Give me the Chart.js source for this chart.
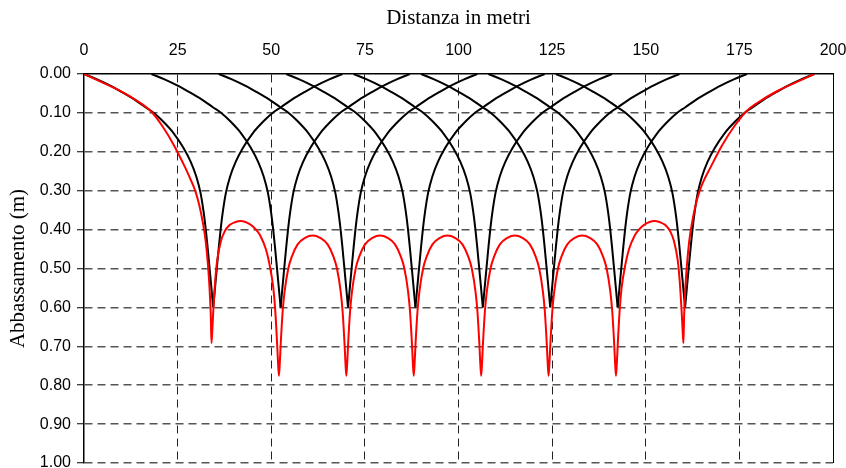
<!DOCTYPE html>
<html>
<head>
<meta charset="utf-8">
<title>Abbassamento</title>
<script src="https://cdn.jsdelivr.net/npm/chart.js@4.4.1/dist/chart.umd.min.js"></script>
<style>
  html, body { margin: 0; padding: 0; background: #fff; }
  #chart { display: block; }
</style>
</head>
<body>
<canvas id="chart" width="846" height="468"></canvas>
<script>
// Axis ticks
const xTicks = [0, 25, 50, 75, 100, 125, 150, 175, 200];
const yTicks = [0, 0.1, 0.2, 0.3, 0.4, 0.5, 0.6, 0.7, 0.8, 0.9, 1.0];

// Well positions (m)
const wellX = [34.5, 52.5, 70.5, 88.5, 106.5, 124.5, 142.5, 160.5];

// Single-well cone (black curves): distance from well / drawdown
const coneDist  = [0, 0.5, 1.0, 1.5, 2.0, 2.6, 3.4, 4.5, 6.0, 8.0, 10.5, 13.5, 16.0, 18.0, 21.0, 24.5, 27.5, 31.0, 34.5];
const coneDepth = [0.60, 0.548, 0.496, 0.445, 0.398, 0.352, 0.305, 0.264, 0.226, 0.189, 0.153, 0.121, 0.099, 0.086, 0.066, 0.046, 0.030, 0.014, 0];

// Red curve (total drawdown) - left end up to the second well
const redLeftX = [0, 5, 10, 15, 18, 21, 24, 27, 28.5, 29.8, 30.8, 31.7, 32.5, 33.1, 33.55, 33.85, 34.05,
  34.3, 34.55, 35.05, 35.55, 36.55, 37.55, 38.8, 40.3, 41.85, 44.55, 46.0, 47.05, 48.55, 49.55, 50.55, 51.05, 51.55, 51.8, 52.05];
const redLeftY = [0, 0.022, 0.045, 0.074, 0.097, 0.135, 0.183, 0.24, 0.272, 0.303, 0.338, 0.38, 0.43, 0.49, 0.555, 0.62, 0.692,
  0.65, 0.605, 0.53, 0.48, 0.43, 0.405, 0.389, 0.381, 0.378, 0.388, 0.401, 0.415, 0.45, 0.49, 0.55, 0.605, 0.69, 0.74, 0.776];

// Red curve - inner bumps between troughs (same shape each time)
const bumpStartX = [52.05, 70.05, 88.05, 106.05, 124.05];
const bumpOffset = [0.25, 0.5, 1, 1.5, 2.5, 3.5, 5, 7, 9, 11, 13, 14.5, 15.5, 16.5, 17, 17.5, 17.75, 18];
const bumpDepth  = [0.74, 0.69, 0.61, 0.56, 0.50, 0.468, 0.438, 0.421, 0.415, 0.421, 0.438, 0.468, 0.50, 0.56, 0.61, 0.69, 0.74, 0.776];

// Red curve - right end from the seventh well
const redRightX = [142.3, 142.55, 143.05, 143.55, 144.55, 145.55, 147.05, 148.1, 149.55, 152.25, 153.8, 155.3, 156.55, 157.55, 158.55, 159.05, 159.55, 159.8, 160.05,
  160.25, 160.55, 161.0, 161.6, 162.4, 163.3, 164.3, 165.6, 167.3, 170.4, 173.6, 176.75, 179.85, 184.9, 189.95, 195];
const redRightY = [0.74, 0.69, 0.605, 0.55, 0.49, 0.45, 0.415, 0.401, 0.388, 0.378, 0.381, 0.389, 0.405, 0.43, 0.48, 0.53, 0.605, 0.65, 0.692,
  0.62, 0.555, 0.49, 0.43, 0.38, 0.338, 0.303, 0.272, 0.24, 0.183, 0.135, 0.097, 0.074, 0.045, 0.022, 0];

// Build point lists (each cone split in two branches so the tip stays sharp)
function coneBranch(w, side) {
  return coneDist.map((d, i) => ({ x: w + side * d, y: coneDepth[i] }))
    .sort((a, b) => a.x - b.x);
}

const redPoints = redLeftX.map((x, i) => ({ x: x, y: redLeftY[i] }));
bumpStartX.forEach(x0 => {
  bumpOffset.forEach((t, i) => redPoints.push({ x: x0 + t, y: bumpDepth[i] }));
});
redRightX.forEach((x, i) => redPoints.push({ x: x, y: redRightY[i] }));

const lineStyle = {
  borderWidth: 2,
  showLine: true,
  pointRadius: 0,
  cubicInterpolationMode: 'monotone'
};

const datasets = [Object.assign({ data: redPoints, borderColor: '#ff0000', order: 0 }, lineStyle)];
wellX.forEach(w => {
  [-1, 1].forEach(side => {
    datasets.push(Object.assign({ data: coneBranch(w, side), borderColor: '#000000', order: 1 }, lineStyle));
  });
});

// Thin solid frame on the right side
const frameRight = {
  id: 'frameRight',
  afterDraw(chart) {
    const { ctx, chartArea } = chart;
    const x = Math.round(chartArea.right) + 0.5;
    ctx.save();
    ctx.strokeStyle = '#000';
    ctx.lineWidth = 1;
    ctx.beginPath();
    ctx.moveTo(x, chartArea.top);
    ctx.lineTo(x, chartArea.bottom);
    ctx.stroke();
    ctx.restore();
  }
};

const tickFont = { family: '"Liberation Sans", Arial, sans-serif', size: 16 };
const titleFont = { family: '"Liberation Serif", "Times New Roman", serif', size: 21 };

new Chart(document.getElementById('chart'), {
  type: 'scatter',
  data: { datasets: datasets },
  plugins: [frameRight],
  options: {
    responsive: false,
    animation: false,
    layout: { padding: { left: 0, top: 0, right: 13, bottom: 5 } },
    plugins: {
      legend: { display: false },
      tooltip: { enabled: false }
    },
    scales: {
      x: {
        type: 'linear',
        position: 'top',
        min: 0,
        max: 200,
        afterBuildTicks: scale => { scale.ticks = xTicks.map(v => ({ value: v })); },
        afterFit: scale => { scale.height = 74; scale.paddingLeft = 0; scale.paddingRight = 0; },
        ticks: { font: tickFont, color: '#000', padding: 14, maxRotation: 0 },
        grid: {
          color: ctx => (ctx.tick && (ctx.tick.value === 0 || ctx.tick.value === 200)) ? 'rgba(0,0,0,0)' : '#222',
          lineWidth: 1,
          drawTicks: false
        },
        border: { display: true, color: '#000', width: 1.5, dash: [8, 5] },
        title: { display: true, text: 'Distanza in metri', font: titleFont, color: '#000', padding: { top: 5.4, bottom: 0 } }
      },
      y: {
        type: 'linear',
        reverse: true,
        min: 0,
        max: 1,
        afterBuildTicks: scale => { scale.ticks = yTicks.map(v => ({ value: v })); },
        afterFit: scale => { scale.width = 84; scale.paddingTop = 0; scale.paddingBottom = 0; },
        ticks: { font: tickFont, color: '#000', padding: 6, callback: v => Number(v).toFixed(2) },
        grid: {
          color: ctx => (ctx.tick && ctx.tick.value === 0) ? 'rgba(0,0,0,0)' : '#555',
          lineWidth: 1.5,
          drawTicks: true,
          tickLength: 7,
          tickColor: '#000',
          tickWidth: 1
        },
        border: { display: true, color: '#000', width: 1.5, dash: [8, 5] },
        title: { display: true, text: 'Abbassamento (m)', font: titleFont, color: '#000', padding: { top: 5.4, bottom: 0 } }
      }
    }
  }
});
</script>
</body>
</html>
